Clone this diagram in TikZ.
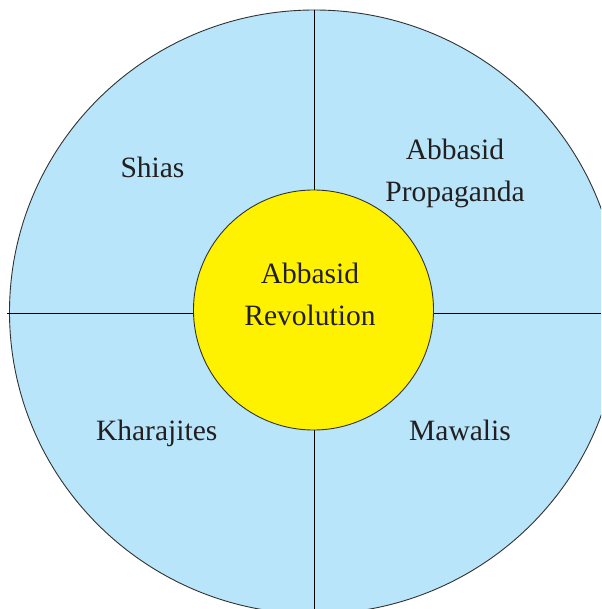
\documentclass[tikz,border=0pt]{standalone}
\usepackage{fontspec}
\setmainfont{Liberation Serif}
\definecolor{skyfill}{RGB}{184,229,249}
\definecolor{sunfill}{RGB}{255,242,0}
\definecolor{rimgray}{RGB}{50,50,50}
\definecolor{inkdark}{RGB}{35,31,32}

\begin{document}
\begin{tikzpicture}[x=1pt, y=-1pt,
    rim/.style={line width=.9pt, draw=rimgray},
    divider/.style={line width=.9pt, draw=black},
    label/.style={inner sep=0pt, anchor=base, align=center, text=inkdark,
      font=\fontsize{29.5}{42}\selectfont}]
       \useasboundingbox (0,0) rectangle (601,609);
       \clip (0,0) rectangle (601,609);

       % outer ring
       \draw[rim, fill=skyfill] (314.5,312) ellipse [x radius=305, y radius=302];
       \coordinate (west) at (7,313);
       \coordinate (east) at (601,313);
       \coordinate (north) at (314,10);
       \coordinate (south) at (314,609);
       \draw[divider] (west) -- (east);
       \draw[divider] (north) -- (south);

       % centre
       \node[rim, fill=sunfill, circle, minimum size=240pt, inner sep=0pt] (rev) at (313.5,310) {};
       \node[label] (revtext) at (310,325) {Abbasid\\Revolution};

       % quarters
       \node[label] (shias) at (152.5,177.3) {Shias};
       \node[label] (propaganda) at (455,201.7) {Abbasid\\Propaganda};
       \node[label] (kharajites) at (156.7,440.7) {Kharajites};
       \node[label] (mawalis) at (460,440.7) {Mawalis};
\end{tikzpicture}
\end{document}
